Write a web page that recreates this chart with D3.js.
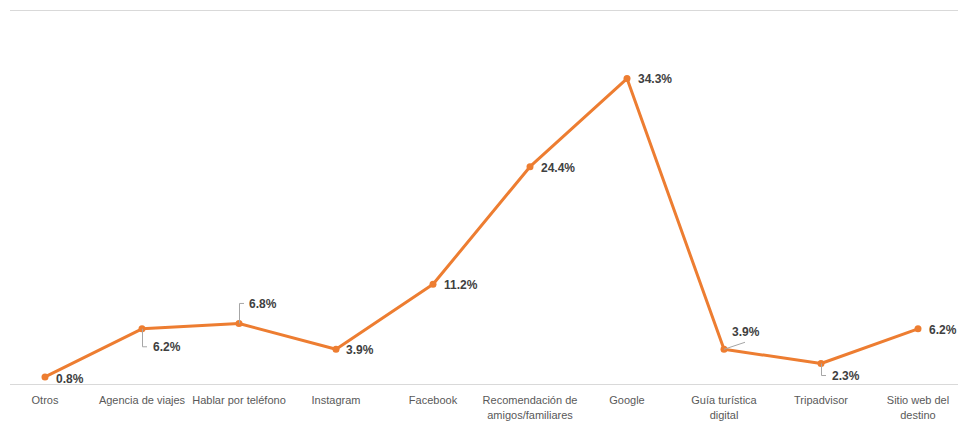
<!DOCTYPE html>
<html>
<head>
<meta charset="utf-8">
<script src="https://cdn.jsdelivr.net/npm/d3@7"></script>
<style>
body { margin: 0; background: #fff; }
text { font-family: "Liberation Sans", Arial, sans-serif; }
</style>
</head>
<body>
<script>
var categories = ["Otros", "Agencia de viajes", "Hablar por teléfono", "Instagram", "Facebook",
	"Recomendación de amigos/familiares", "Google", "Guía turística digital", "Tripadvisor", "Sitio web del destino"]
var catLines = [["Otros"], ["Agencia de viajes"], ["Hablar por teléfono"], ["Instagram"], ["Facebook"],
	["Recomendación de", "amigos/familiares"], ["Google"], ["Guía turística", "digital"], ["Tripadvisor"], ["Sitio web del", "destino"]]
var values = [0.8, 6.2, 6.8, 3.9, 11.2, 24.4, 34.3, 3.9, 2.3, 6.2]

// label offsets relative to the point (dx, dy) and whether a leader line is drawn
var labelPos = [
	{dx: 11, dy: 2, leader: null},
	{dx: 11, dy: 18, leader: "down"},
	{dx: 10, dy: -20, leader: "up"},
	{dx: 10, dy: 1, leader: null},
	{dx: 11, dy: 1, leader: null},
	{dx: 11, dy: 1, leader: null},
	{dx: 11, dy: 0, leader: null},
	{dx: 8, dy: -17, leader: "diag"},
	{dx: 11, dy: 12, leader: "down"},
	{dx: 11, dy: 1, leader: null}
]

var w = 958
var h = 425

var xScale = d3.scalePoint()
	.domain(categories)
	.range([45, 918])

var yScale = d3.scaleLinear()
	.domain([0, 42])
	.range([384, 10])

var svg = d3.select("body")
	.append("svg")
	.attr("width", w)
	.attr("height", h)

// top border line and baseline
svg.append("line")
	.attr("x1", 10).attr("x2", w)
	.attr("y1", yScale(42) + 0.5).attr("y2", yScale(42) + 0.5)
	.attr("stroke", "#d9d9d9")

var xAxis = d3.axisBottom(xScale).tickSize(0).tickFormat("")
svg.append("g")
	.attr("class", "x axis")
	.attr("transform", "translate(0," + (yScale(0) + 0.5) + ")")
	.call(xAxis)
	.call(g => g.select(".domain").attr("stroke", "#d9d9d9").attr("d", "M10,0H" + w))

// category labels
svg.append("g")
	.selectAll("text")
	.data(categories)
	.enter()
	.append("text")
	.attr("x", (d) => xScale(d))
	.attr("y", 404)
	.attr("text-anchor", "middle")
	.attr("fill", "#595959")
	.style("font-size", "11px")
	.each(function(d, i) {
		var t = d3.select(this)
		catLines[i].forEach(function(line, j) {
			t.append("tspan")
				.attr("x", xScale(d))
				.attr("dy", j == 0 ? 0 : 15)
				.text(line)
		})
	})

// line
var line = d3.line()
	.x((d, i) => xScale(categories[i]))
	.y((d) => yScale(d))

svg.append("path")
	.datum(values)
	.attr("d", line)
	.attr("fill", "none")
	.attr("stroke", "#ED7D31")
	.attr("stroke-width", 3)
	.attr("stroke-linejoin", "round")

svg.append("g")
	.selectAll("circle")
	.data(values)
	.enter()
	.append("circle")
	.attr("cx", (d, i) => xScale(categories[i]))
	.attr("cy", (d) => yScale(d))
	.attr("r", 3.5)
	.attr("fill", "#ED7D31")

// leader lines
svg.append("g")
	.selectAll("path")
	.data(values.map((v, i) => ({v: v, i: i, p: labelPos[i]})).filter((d) => d.p.leader))
	.enter()
	.append("path")
	.attr("fill", "none")
	.attr("stroke", "#a6a6a6")
	.attr("stroke-width", 1)
	.attr("d", function(d) {
		var x = xScale(categories[d.i]), y = yScale(d.v)
		if (d.p.leader == "diag") return "M" + x + "," + y + "L" + (x + 21) + "," + (y - 7)
		var ty = y + d.p.dy
		return "M" + (x + 0.5) + "," + y + "V" + ty + "H" + (x + 5)
	})

// value labels
svg.append("g")
	.selectAll("text")
	.data(values)
	.enter()
	.append("text")
	.attr("x", (d, i) => xScale(categories[i]) + labelPos[i].dx)
	.attr("y", (d, i) => yScale(d) + labelPos[i].dy)
	.attr("dy", "0.35em")
	.attr("fill", "#404040")
	.style("font-size", "12px")
	.style("font-weight", "bold")
	.text((d) => d.toFixed(1) + "%")
</script>
</body>
</html>
